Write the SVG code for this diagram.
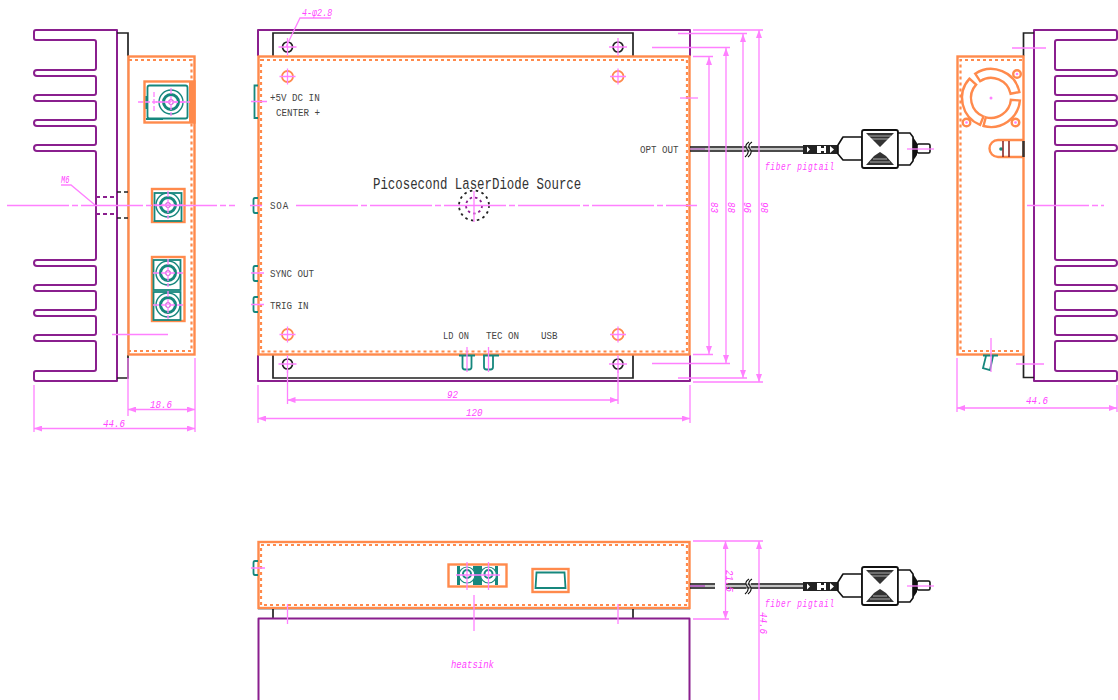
<svg xmlns="http://www.w3.org/2000/svg" xmlns:xlink="http://www.w3.org/1999/xlink" width="1118" height="700" viewBox="0 0 1118 700">
<style>
.o{fill:none;stroke:#ff8a4c;stroke-width:2.4}
.od{fill:none;stroke:#ff8a4c;stroke-width:2.2;stroke-dasharray:3 3}
.p{fill:none;stroke:#8a1f8e;stroke-width:2;stroke-linejoin:round}
.k{fill:none;stroke:#222;stroke-width:1.7}
.kd{fill:none;stroke:#222;stroke-width:1.7;stroke-dasharray:4 3}
.t{fill:none;stroke:#16877d;stroke-width:1.8}
.tf{fill:#16877d}
.m{fill:none;stroke:#ff80ff;stroke-width:1.3}
.mc{fill:none;stroke:#ff80ff;stroke-width:1.5;stroke-dasharray:62 3 6 3}
.mf{fill:#ff80ff}
.lab{font-family:"Liberation Mono",monospace;font-size:11.5px;fill:#444}
.dim{font-family:"Liberation Mono",monospace;font-style:italic;font-size:11.5px;fill:#ff44ff}
</style>
<defs>
<marker id="a" viewBox="0 0 8 6" refX="8" refY="3" markerWidth="8" markerHeight="6" orient="auto-start-reverse" markerUnits="userSpaceOnUse"><path d="M0,0 L8,3 L0,6 Z" fill="#ff80ff"/></marker>
<path id="sink" class="p" d="M36,30 H117 V381 H36 Q34,381 34,379 V373 Q34,371 36,371 H94 Q96,371 96,369 V343 Q96,341 94,341 H37 a3,3 0 0 1 0,-6 H94 q2,0 2,-2 V318 q0,-2 -2,-2 H37 a3,3 0 0 1 0,-6 H94 q2,0 2,-2 V293 q0,-2 -2,-2 H37 a3,3 0 0 1 0,-6 H94 q2,0 2,-2 V268 q0,-2 -2,-2 H37 a3,3 0 0 1 0,-6 H94 q2,0 2,-2 V153 q0,-2 -2,-2 H37 a3,3 0 0 1 0,-6 H94 q2,0 2,-2 V128 q0,-2 -2,-2 H37 a3,3 0 0 1 0,-6 H94 q2,0 2,-2 V103 q0,-2 -2,-2 H37 a3,3 0 0 1 0,-6 H94 q2,0 2,-2 V78 q0,-2 -2,-2 H37 a3,3 0 0 1 0,-6 H94 q2,0 2,-2 V42 q0,-2 -2,-2 H36 q-2,0 -2,-2 V32 q0,-2 2,-2 Z"/>
<g id="jack">
<circle r="12" fill="#fff" stroke="#16877d" stroke-width="1.4"/>
<circle r="7.5" fill="none" stroke="#16877d" stroke-width="3"/>
<circle r="2.5" fill="#fff" stroke="#b04cc0" stroke-width="1"/>
<path class="m" d="M-15,0 H15 M0,-14 V14" stroke-dasharray="6 2"/>
</g>
<g id="ohole"><circle r="5.5" class="o" style="stroke-width:1.8"/><path class="m" d="M-8,0 H8 M0,-8 V8"/></g>
<g id="khole"><circle r="5" class="k"/><path class="m" d="M-9,0 H9 M0,-9 V9"/></g>
<g id="fc">
<path d="M690,147 H803 M690,151 H803" stroke="#111" stroke-width="1.5" fill="none"/>
<path d="M690,149 H803" stroke="#888" stroke-width="1.2"/>
<path d="M749,142 q-5,3 -2,7 q3,4 -2,8 M752,142 q-5,3 -2,7 q3,4 -2,8" fill="#fff" stroke="#111" stroke-width="1.1"/>
<path d="M803,145 H838 V154 H803 Z" fill="#222"/>
<path d="M807,146.5 l3,3 l-3,3 Z M817,146 h4 v2 h3 v-2 h2 v7 h-2 v-2 h-3 v2 h-4 Z M830,146 l4,3.5 l-4,3.5 Z" fill="#fff"/>
<path d="M838,145 L843,137 H862 V160 H843 L838,154 Z" fill="#fff" stroke="#111" stroke-width="1.6" stroke-linejoin="round"/>
<rect x="862" y="130" width="36" height="38" rx="2" fill="#fff" stroke="#111" stroke-width="1.8"/>
<path d="M866,133 H894 L885,142 L880,147 L875,142 Z M866,165 H894 L886,156 L880,152 L874,156 Z" fill="#333"/>
<path d="M869,136 H891 M871,139 H889 M873,159 H887 M870,162 H890" stroke="#fff" stroke-width=".6"/>
<path d="M898,133 H910 L913,137 V161 L910,165 H898 Z" fill="#fff" stroke="#111" stroke-width="1.6"/>
<path d="M913,137 L917,143 V155 L913,161 Z" fill="#111"/>
<rect x="917" y="144" width="13" height="9" rx="1.5" fill="#fff" stroke="#111" stroke-width="1.6"/>
<path class="m" d="M907,149 H934"/>
<path d="M690,149 H705" stroke="#b04cc0" stroke-width="1"/>
</g>
</defs>

<g id="view-left">
<use href="#sink" xlink:href="#sink"/>
<path class="k" d="M117,33 H128 V56 M128,355 V378 H117"/>
<path d="M128,56 V355" stroke="#999" stroke-width=".8"/>
<rect class="o" x="128.500" y="56.500" width="66" height="298"/>
<path class="od" d="M129,60 H191.500 V351 H129"/>
<path class="kd" d="M117,192 H128 M117,218 H128"/>
<path class="p" stroke-dasharray="4 3" d="M96,197 H114 M96,214 H114"/>
<g id="dc-jack">
<rect x="144.500" y="81.500" width="50" height="41" fill="#fff" class="o" style="fill:#fff"/>
<rect x="189" y="82" width="5.500" height="40" fill="#ff8a4c"/>
<rect x="147.500" y="85.500" width="40" height="33" rx="2" class="t"/>
<rect x="146" y="118" width="17" height="2" class="tf"/>
<rect x="145.500" y="96" width="2" height="13" class="tf"/>
<use href="#jack" xlink:href="#jack" x="171" y="102"/>
<path class="m" stroke-dasharray="5 2" d="M138,102 H190 M154,92 V112"/>
</g>
<g id="soa-jack">
<rect x="152" y="189" width="32.500" height="33" class="o" style="fill:#fff"/>
<rect x="154.500" y="193" width="27" height="28" class="t"/>
<use href="#jack" xlink:href="#jack" x="168" y="205"/>
</g>
<g id="sync-trig-jacks">
<rect x="152" y="257" width="32.500" height="64" class="o" style="fill:#fff"/>
<rect x="153.500" y="260" width="27" height="30" class="t"/>
<rect x="153.500" y="292" width="27" height="28" class="t"/>
<use href="#jack" xlink:href="#jack" x="168" y="273"/>
<use href="#jack" xlink:href="#jack" x="168" y="305"/>
</g>
<path class="m" d="M112,334.500 H168"/>
<text class="dim" transform="translate(61,183) scale(.7,1)" style="font-size:10px">M6</text>
<path class="m" d="M61,185 H71 L95,205"/>
</g>

<g id="view-front">
<path class="p" d="M258,56 V30 H690 V56 M258,355 V381 H690 V355"/>
<path class="k" d="M273,56 V33 H633 V56 M273,355 V378 H633 V355"/>
<rect class="o" x="258.500" y="56.500" width="431" height="298"/>
<path class="od" d="M261,60 H687 V351.500 H261 Z"/>
<use href="#khole" xlink:href="#khole" x="287.500" y="47"/>
<use href="#khole" xlink:href="#khole" x="618" y="47"/>
<use href="#khole" xlink:href="#khole" x="287.500" y="364"/>
<use href="#khole" xlink:href="#khole" x="618" y="364"/>
<use href="#ohole" xlink:href="#ohole" x="287.500" y="76.500"/>
<use href="#ohole" xlink:href="#ohole" x="618" y="76.500"/>
<use href="#ohole" xlink:href="#ohole" x="287.500" y="334.500"/>
<use href="#ohole" xlink:href="#ohole" x="618" y="334.500"/>
<path class="t" d="M258,85.500 H254.500 V118 H258 M258,198 H255 Q253.500,198 253.500,200 V211 Q253.500,213 255,213 H258 M258,266 H255 Q253.500,266 253.500,268 V279 Q253.500,281 255,281 H258 M258,297 H255 Q253.500,297 253.500,299 V310 Q253.500,312 255,312 H258"/>
<path class="m" d="M251,101.500 H267 M250,205.500 H262 M251,273 H264 M251,304.500 H264"/>
<g id="center-mark">
<circle cx="474" cy="205.500" r="15" fill="none" stroke="#222" stroke-width="1.8" stroke-dasharray="2.500 3.500"/>
<circle cx="474" cy="205.500" r="8" fill="none" stroke="#8a1f8e" stroke-width="1.8" stroke-dasharray="2.500 3"/>
<path class="m" d="M474,191 V222"/>
</g>
<g id="leds">
<path class="t" d="M459,355.500 H475 M483,355.500 H499 M462.500,356 V367 Q462.500,369.500 465,369.500 H469 Q471.500,369.500 471.500,367 V356 M484,356 V367 Q484,369.500 486.500,369.500 H490.500 Q493,369.500 493,367 V356"/>
<path class="m" d="M467,347 V372 M488.500,347 V372"/>
</g>
<text class="lab" transform="translate(270,100.500) scale(.8,1)">+5V DC IN</text>
<text class="lab" transform="translate(276,116) scale(.8,1)">CENTER +</text>
<text class="lab" transform="translate(270,208.500) scale(.8,1)" style="letter-spacing:1px">SOA</text>
<text class="lab" transform="translate(270,276.500) scale(.8,1)">SYNC OUT</text>
<text class="lab" transform="translate(270,308.500) scale(.8,1)">TRIG IN</text>
<text class="lab" transform="translate(443,339) scale(.75,1)">LD ON</text>
<text class="lab" transform="translate(486,339) scale(.8,1)">TEC ON</text>
<text class="lab" transform="translate(541,339) scale(.8,1)">USB</text>
<text class="lab" transform="translate(640,152.500) scale(.8,1)">OPT OUT</text>
<text class="lab" transform="translate(373,188.500) scale(.752,1)" style="font-size:16.500px;fill:#333">Picosecond LaserDiode Source</text>
<use href="#fc" xlink:href="#fc"/>
</g>

<g id="view-right">
<use href="#sink" xlink:href="#sink" transform="matrix(-1 0 0 1 1151 0)"/>
<path class="k" d="M1034,33 H1023.500 V56 M1023.500,355 V377.500 H1034"/>
<path d="M1023.500,56 V355" stroke="#999" stroke-width=".8"/>
<rect class="o" x="957.500" y="56.500" width="66" height="298"/>
<path class="od" d="M1022,60 H960.500 V351 H1022"/>
<g id="fan">
<path class="o" d="M975.200,73.700 A29,29 0 0 1 1019.400,92 L1010.600,93.800 A20,20 0 0 0 980.100,81.200 Z"/>
<path class="o" d="M1019.900,100.500 A29,29 0 0 1 983.500,126 L985.800,117.300 A20,20 0 0 0 1010.900,99.700 Z"/>
<path class="o" d="M980.100,124.900 A29,29 0 0 1 969.500,78.600 L976.100,84.600 A20,20 0 0 0 983.500,116.500 Z"/>
<circle class="o" cx="1017" cy="74" r="3.800"/>
<circle class="o" cx="966.500" cy="122.500" r="3.800"/>
<circle class="o" cx="1015.500" cy="122.500" r="3.800"/>
<circle cx="1017" cy="74" r="1.300" class="mf"/>
<circle cx="966.500" cy="122.500" r="1.300" class="mf"/>
<circle cx="1015.500" cy="122.500" r="1.300" class="mf"/>
</g>
<circle cx="991" cy="98" r="1.500" class="mf"/>
<g id="toggle">
<path class="o" d="M1023,140 H998 A8.500,8.500 0 0 0 998,157 H1023"/>
<circle cx="1001" cy="149" r="1.800" class="tf"/>
<path d="M1003,141 V157 M1009,141 V157" stroke="#8a2a2a" stroke-width="1.6" fill="none"/>
<path d="M1023.500,141 V157" stroke="#333" stroke-width="2.500"/>
</g>
<path class="t" d="M983,355.500 H998 M986,356 L983,368 L990,370 L993,356"/>
<path class="m" d="M991,338 V372 M1012,48 H1046 M1016,364 H1044"/>
</g>

<g id="view-bottom">
<rect class="o" x="258.500" y="542" width="431" height="66"/>
<path class="od" d="M261,545 H687 V605 H261 Z"/>
<path d="M258,609.500 H690" stroke="#bbb" stroke-width="1"/>
<path class="k" d="M273,609 V618 M633,609 V618"/>
<path class="p" d="M258.500,700 V618.500 H689.500 V700"/>
<path class="t" d="M258,561 H255 Q253.500,561 253.500,563 V573 Q253.500,575 255,575 H258"/>
<path class="m" d="M251,568 H265 M287.500,604 V624 M474,595 V631 M618,604 V624"/>
<g id="bottom-jacks">
<rect class="o" x="448.500" y="564.500" width="58" height="22" style="fill:#fff"/>
<rect x="457" y="566" width="41" height="19" class="tf"/>
<rect x="460" y="566" width="13" height="19" fill="#fff"/>
<rect x="482" y="566" width="13" height="19" fill="#fff"/>
<circle cx="467" cy="575" r="8" fill="#fff" stroke="#16877d" stroke-width="1.2"/>
<circle cx="488.500" cy="575" r="8" fill="#fff" stroke="#16877d" stroke-width="1.2"/>
<circle cx="467" cy="574" r="4" fill="none" stroke="#16877d" stroke-width="2"/>
<circle cx="488.500" cy="574" r="4" fill="none" stroke="#16877d" stroke-width="2"/>
<path class="m" d="M467,562 V590 M488.500,562 V590 M456,575 H500"/>
</g>
<g id="usb">
<rect class="o" x="532.500" y="569" width="36" height="23"/>
<path class="t" d="M535.500,588 L536.500,572.500 H564.500 L565.500,588 Z"/>
</g>
<use href="#fc" xlink:href="#fc" y="437"/>
<rect x="715" y="575" width="10.500" height="20" fill="#fff"/>
<path d="M690,586 H705" stroke="#b04cc0" stroke-width="1"/>
</g>

<g id="connectors">
<path class="mc" d="M7,205.500 H235 M296,205.500 H697 M1027,205.500 H1104"/>
<path class="m" d="M680,98 H698"/>
<g id="dim-lines">
<path class="m" d="M128,358 V416 M195,358 V432 M34,385 V432"/>
<path class="m" marker-start="url(#a)" marker-end="url(#a)" d="M128,409.500 H195"/>
<path class="m" marker-start="url(#a)" marker-end="url(#a)" d="M34,428.500 H195"/>
<path class="m" d="M287.500,370 V404 M618,370 V404 M258,385 V423 M690,385 V423"/>
<path class="m" marker-start="url(#a)" marker-end="url(#a)" d="M287.500,400 H618"/>
<path class="m" marker-start="url(#a)" marker-end="url(#a)" d="M258,418.500 H690"/>
<path class="m" d="M693,30 H763 M678,33.500 H747 M652,47.500 H730 M693,56.500 H713 M693,354.500 H713 M652,363.500 H730 M678,378 H747 M693,382 H763"/>
<path class="m" marker-start="url(#a)" marker-end="url(#a)" d="M709,57 V354"/>
<path class="m" marker-start="url(#a)" marker-end="url(#a)" d="M726,48 V363"/>
<path class="m" marker-start="url(#a)" marker-end="url(#a)" d="M743,34 V378"/>
<path class="m" marker-start="url(#a)" marker-end="url(#a)" d="M759,30 V382"/>
<path class="m" d="M957,358 V412 M1117,385 V412"/>
<path class="m" marker-start="url(#a)" marker-end="url(#a)" d="M957,408 H1117"/>
<path class="m" d="M693,541 H763 M693,619 H729"/>
<path class="m" marker-start="url(#a)" marker-end="url(#a)" d="M725.500,541 V619"/>
<path class="m" marker-start="url(#a)" d="M759,541 V700"/>
<path class="m" d="M286,47 L300,18 H331"/>
</g>
<text class="dim" transform="translate(302,16) scale(.8,1)" style="font-size:10.500px">4-φ2.8</text>
<text class="dim" transform="translate(150,408) scale(.8,1)">18.6</text>
<text class="dim" transform="translate(103,427) scale(.8,1)">44.6</text>
<text class="dim" transform="translate(447,398) scale(.8,1)">92</text>
<text class="dim" transform="translate(466,416) scale(.8,1)">120</text>
<text class="dim" transform="translate(711,202) rotate(90) scale(.8,1)">83</text>
<text class="dim" transform="translate(728,202) rotate(90) scale(.8,1)">88</text>
<text class="dim" transform="translate(744,202) rotate(90) scale(.8,1)">96</text>
<text class="dim" transform="translate(761,202) rotate(90) scale(.8,1)">98</text>
<text class="dim" transform="translate(1026,404) scale(.8,1)">44.6</text>
<text class="dim" transform="translate(765,170) scale(.68,1)" style="letter-spacing:1px">fiber pigtail</text>
<text class="dim" transform="translate(765,607) scale(.68,1)" style="letter-spacing:1px">fiber pigtail</text>
<text class="dim" transform="translate(726,570) rotate(90) scale(.8,1)">21.5</text>
<text class="dim" transform="translate(760,612) rotate(90) scale(.8,1)">44.6</text>
<text class="dim" transform="translate(451,668) scale(.78,1)">heatsink</text>
</g>
</svg>
